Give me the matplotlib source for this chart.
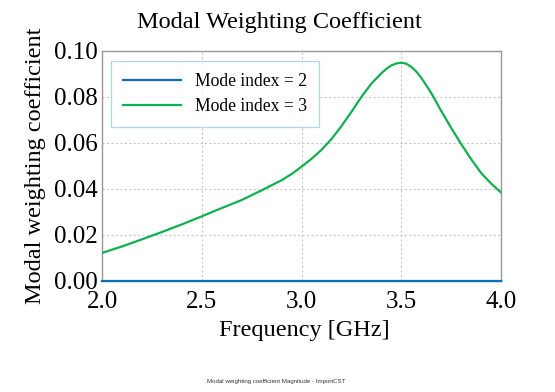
import numpy as np
import matplotlib
matplotlib.use("Agg")
import matplotlib.pyplot as plt
from matplotlib.ticker import FormatStrFormatter

# frequenze (GHz)
freq = [2.0, 2.1, 2.2, 2.3, 2.4, 2.5, 2.6, 2.7, 2.8, 2.9, 2.95, 3.0, 3.05, 3.1,
        3.15, 3.2, 3.25, 3.3, 3.35, 3.4, 3.425, 3.45, 3.475, 3.5, 3.525, 3.55,
        3.575, 3.6, 3.65, 3.7, 3.75, 3.8, 3.85, 3.9, 3.95, 4.0]
# coefficiente modo 3
mode3 = [0.0122, 0.0150, 0.0181, 0.0213, 0.0246, 0.0281, 0.0317, 0.0352, 0.0394,
         0.0438, 0.0465, 0.0497, 0.0531, 0.0570, 0.0617, 0.0673, 0.0735, 0.0800,
         0.0858, 0.0903, 0.0922, 0.0937, 0.0946, 0.0949, 0.0945, 0.0931,
         0.0911, 0.0884, 0.0818, 0.0740, 0.0666, 0.0596, 0.0530, 0.0470, 0.0424,
         0.0385]
# coefficiente modo 2 (zero su tutta la banda)
mode2 = [0.0] * len(freq)

labels = ["Mode index = 2", "Mode index = 3"]
x_ticks = [2.0, 2.5, 3.0, 3.5, 4.0]
y_ticks = [0.00, 0.02, 0.04, 0.06, 0.08, 0.10]

serif = ["Liberation Serif", "DejaVu Serif"]

fig = plt.figure(figsize=(5.55, 3.92), dpi=100)
ax = fig.add_axes([0.1838, 0.2832, 0.7189, 0.5867])

ax.plot(freq, mode3, color="#10b04e", lw=1.6, label=labels[1], zorder=3)
ax.plot(freq, mode2, color="#0b6fb8", lw=1.6, label=labels[0], zorder=4, clip_on=False)

ax.set_xlim(2.0, 4.0)
ax.set_ylim(0.0, 0.10)
ax.set_xticks(x_ticks)
ax.set_yticks(y_ticks)
ax.xaxis.set_major_formatter(FormatStrFormatter("%.1f"))
ax.yaxis.set_major_formatter(FormatStrFormatter("%.2f"))
ax.tick_params(length=0, labelsize=18, pad=3)
ax.tick_params(axis="x", pad=7)
for lab in ax.get_xticklabels() + ax.get_yticklabels():
    lab.set_family(serif)

ax.grid(True, color="#c8c8c8", linestyle=(0, (2, 2)), lw=0.8)
for s in ax.spines.values():
    s.set_color("#999999")
    s.set_linewidth(1.0)

# legenda: ordine modo 2 poi modo 3
h, l = ax.get_legend_handles_labels()
leg = ax.legend([h[1], h[0]], [l[1], l[0]], loc="upper left",
                bbox_to_anchor=(0.022, 0.958), borderaxespad=0,
                fancybox=False, handlelength=3.3, handletextpad=0.75,
                borderpad=0.7, labelspacing=0.45,
                prop={"family": serif, "size": 12.7})
leg.get_frame().set_edgecolor("#9cc8ea")
leg.get_frame().set_linewidth(0.9)

fig.text(0.503, 0.9286, "Modal Weighting Coefficient", ha="center",
         va="baseline", fontsize=17.5, family=serif)
fig.text(304 / 555, 1 - 336 / 392, "Frequency [GHz]", ha="center",
         va="baseline", fontsize=17.5, family=serif)
fig.text(36 / 555, 0.576, "Modal weighting coefficient", rotation=90,
         ha="center", va="center", fontsize=17.5, family=serif)
fig.text(276 / 555, 1 - 382 / 392, "Modal weighting coefficient Magnitude - ImportCST",
         ha="center", va="center", fontsize=4.4, family="Liberation Sans",
         color="#333333")

fig.savefig("out.png", dpi=100)
